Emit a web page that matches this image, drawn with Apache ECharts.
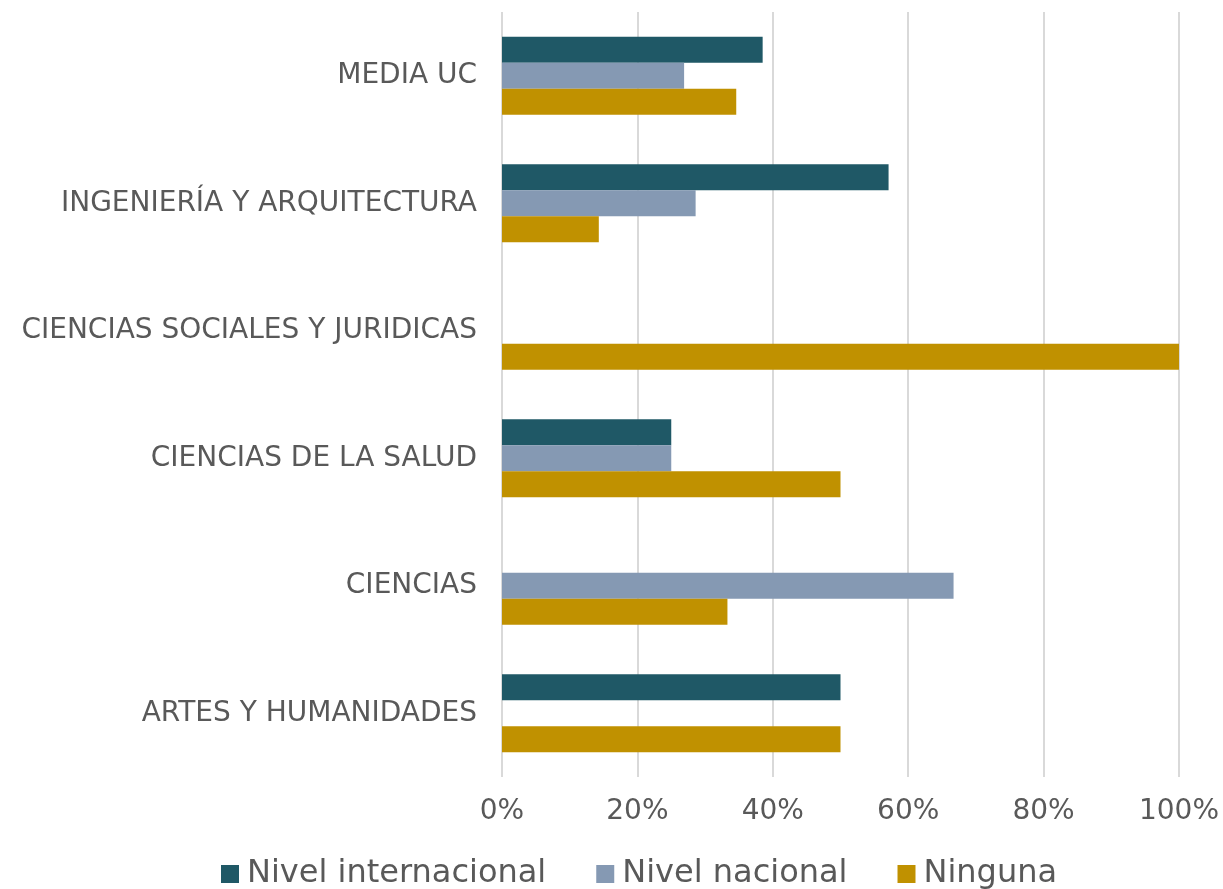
<!DOCTYPE html>
<html>
<head>
<meta charset="utf-8">
<script src="https://cdn.jsdelivr.net/npm/echarts@6/dist/echarts.min.js"></script>
<style>
  html, body { margin: 0; padding: 0; background: #fff; }
  #chart { width: 1223px; height: 889px; }
</style>
</head>
<body>
<div id="chart"></div>
<script>
// Categories listed bottom-to-top (category axis on y starts at the bottom)
const categories = [
  'ARTES Y HUMANIDADES',
  'CIENCIAS',
  'CIENCIAS DE LA SALUD',
  'CIENCIAS SOCIALES Y JURIDICAS',
  'INGENIERÍA Y ARQUITECTURA',
  'MEDIA UC'
];
const seriesNames = ['Nivel internacional', 'Nivel nacional', 'Ninguna'];
// Shares in percent, one array per series, same order as categories
const internacional = [50, 0, 25, 0, 57.1, 38.5];
const nacional      = [0, 66.7, 25, 0, 28.6, 26.9];
const ninguna       = [50, 33.3, 50, 100, 14.3, 34.6];
const colors = ['#1F5866', '#8599B3', '#C09100'];

const font = 'DejaVu Sans, Verdana, sans-serif';
const chart = echarts.init(document.getElementById('chart'), null, { renderer: 'canvas' });

const values = [internacional, nacional, ninguna];
chart.setOption({
  animation: false,
  grid: { left: 502, right: 44, top: 12, bottom: 112, containLabel: false },
  legend: {
    top: 853,
    left: 216,
    itemWidth: 18,
    itemHeight: 18,
    itemGap: 50,
    icon: 'rect',
    textStyle: { fontFamily: font, fontSize: 32, color: '#595959', padding: [0, 0, 0, 3] },
    data: seriesNames
  },
  xAxis: {
    type: 'value',
    min: 0,
    max: 100,
    interval: 20,
    axisLabel: {
      formatter: '{value}%',
      fontFamily: font, fontSize: 28, color: '#595959', margin: 21
    },
    axisLine: { show: false },
    axisTick: { show: false },
    splitLine: { lineStyle: { color: '#D9D9D9', width: 2 } }
  },
  yAxis: {
    type: 'category',
    data: categories,
    axisLabel: { fontFamily: font, fontSize: 28, color: '#595959', margin: 25 },
    axisLine: { show: false },
    axisTick: { show: false }
  },
  series: seriesNames.map((name, i) => ({
    name,
    type: 'bar',
    data: values[i],
    barGap: '0%',
    barCategoryGap: '39%',
    itemStyle: { color: colors[i] }
  }))
});
</script>
</body>
</html>
